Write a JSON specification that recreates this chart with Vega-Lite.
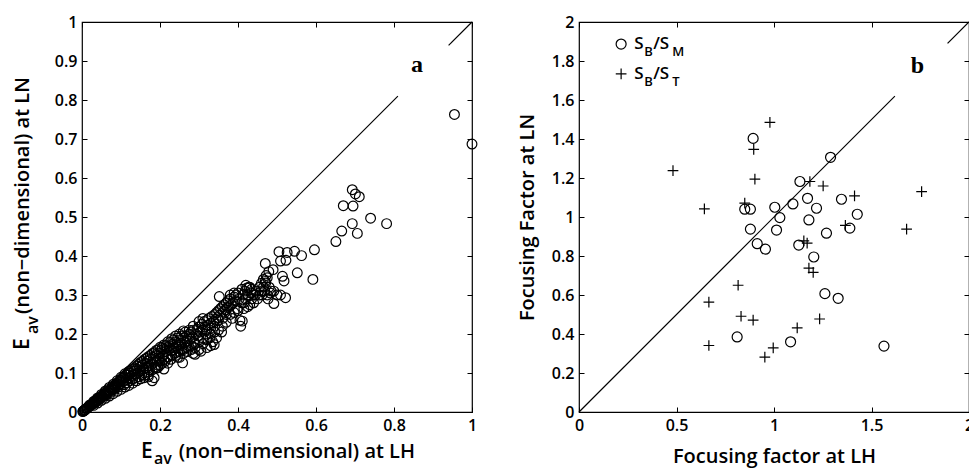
{
  "$schema": "https://vega.github.io/schema/vega-lite/v6.json",
  "background": "white",
  "padding": {"left": 11, "top": 13, "right": 0, "bottom": 0},
  "spacing": 36,
  "config": {
    "view": {"stroke": "black", "strokeWidth": 1.2},
    "font": "Open Sans",
    "axis": {
      "domain": false, "grid": false, "ticks": true, "tickColor": "black", "tickSize": -5, "tickWidth": 1,
      "labelFont": "Open Sans", "labelFontSize": 16, "labelFontWeight": 600, "labelColor": "black",
      "labelPadding": 10, "labelFlush": false, "labelOverlap": false,
      "titleFont": "Open Sans", "titleFontSize": 20, "titleFontWeight": 600, "titleColor": "black", "titlePadding": 12
    }
  },
  "hconcat": [
    {
      "width": 390, "height": 390,
      "resolve": {"axis": {"x": "independent", "y": "independent"}},
      "layer": [
        {
          "data": {"values": [{"x1": 0, "y1": 0, "x2": 0.81, "y2": 0.81}, {"x1": 0.94, "y1": 0.94, "x2": 1, "y2": 1}]},
          "mark": {"type": "rule", "color": "black", "strokeWidth": 1.2},
          "encoding": {
            "x": {"field": "x1", "type": "quantitative", "scale": {"domain": [0, 1], "nice": false}, "axis": {"orient": "bottom", "values": [0, 0.2, 0.4, 0.6, 0.8, 1], "format": "~g", "title": null}},
            "y": {"field": "y1", "type": "quantitative", "scale": {"domain": [0, 1], "nice": false}, "axis": {"orient": "left", "values": [0, 0.1, 0.2, 0.3, 0.4, 0.5, 0.6, 0.7, 0.8, 0.9, 1], "format": "~g", "title": null}},
            "x2": {"field": "x2"},
            "y2": {"field": "y2"}
          }
        },
        {
          "data": {"values": [
            {"x":0.002,"y":0.001},{"x":0.004,"y":0.003},{"x":0.006,"y":0.005},{"x":0.008,"y":0.006},{"x":0.01,"y":0.008},{"x":0.012,"y":0.009},{"x":0.015,"y":0.012},{"x":0.017,"y":0.013},{"x":0.02,"y":0.016},{"x":0.022,"y":0.017},{"x":0.025,"y":0.02},{"x":0.027,"y":0.02},{"x":0.03,"y":0.024},{"x":0.032,"y":0.025},{"x":0.035,"y":0.027},{"x":0.037,"y":0.03},{"x":0.04,"y":0.031},{"x":0.042,"y":0.034},{"x":0.045,"y":0.035},{"x":0.048,"y":0.037},{"x":0.003,"y":0.002},{"x":0.007,"y":0.004},{"x":0.013,"y":0.01},{"x":0.018,"y":0.015},{"x":0.024,"y":0.018},{"x":0.029,"y":0.022},{"x":0.034,"y":0.029},{"x":0.039,"y":0.028},{"x":0.044,"y":0.036},{"x":0.049,"y":0.04},
            {"x":0.05,"y":0.04},{"x":0.052,"y":0.038},{"x":0.055,"y":0.045},{"x":0.057,"y":0.043},{"x":0.06,"y":0.048},{"x":0.062,"y":0.046},{"x":0.065,"y":0.052},{"x":0.067,"y":0.05},{"x":0.07,"y":0.056},{"x":0.072,"y":0.054},{"x":0.075,"y":0.06},{"x":0.077,"y":0.057},{"x":0.08,"y":0.064},{"x":0.082,"y":0.06},{"x":0.085,"y":0.068},{"x":0.087,"y":0.065},{"x":0.09,"y":0.072},{"x":0.092,"y":0.068},{"x":0.095,"y":0.076},{"x":0.097,"y":0.07},{"x":0.1,"y":0.08},{"x":0.058,"y":0.05},{"x":0.068,"y":0.058},{"x":0.078,"y":0.066},{"x":0.088,"y":0.074},{"x":0.098,"y":0.082},{"x":0.063,"y":0.044},{"x":0.073,"y":0.05},{"x":0.083,"y":0.058},{"x":0.093,"y":0.064},
            {"x":0.02,"y":0.018},{"x":0.03,"y":0.027},{"x":0.04,"y":0.036},{"x":0.05,"y":0.045},{"x":0.06,"y":0.054},{"x":0.07,"y":0.063},{"x":0.08,"y":0.071},{"x":0.09,"y":0.08},{"x":0.1,"y":0.089},{"x":0.11,"y":0.098},{"x":0.12,"y":0.104},
            {"x":0.03,"y":0.017},{"x":0.04,"y":0.023},{"x":0.05,"y":0.03},{"x":0.06,"y":0.035},{"x":0.07,"y":0.041},{"x":0.08,"y":0.047},{"x":0.09,"y":0.053},{"x":0.1,"y":0.058},{"x":0.11,"y":0.064},{"x":0.12,"y":0.068},{"x":0.13,"y":0.074},{"x":0.14,"y":0.08},{"x":0.15,"y":0.085},
            {"x":0.102,"y":0.085},{"x":0.105,"y":0.078},{"x":0.108,"y":0.07},{"x":0.11,"y":0.09},{"x":0.113,"y":0.082},{"x":0.115,"y":0.075},{"x":0.118,"y":0.095},{"x":0.12,"y":0.087},{"x":0.123,"y":0.08},{"x":0.125,"y":0.1},{"x":0.128,"y":0.092},{"x":0.13,"y":0.084},{"x":0.133,"y":0.105},{"x":0.135,"y":0.097},{"x":0.138,"y":0.088},{"x":0.14,"y":0.11},{"x":0.143,"y":0.1},{"x":0.145,"y":0.09},{"x":0.148,"y":0.115},{"x":0.15,"y":0.105},{"x":0.153,"y":0.095},{"x":0.155,"y":0.12},{"x":0.158,"y":0.11},{"x":0.16,"y":0.1},{"x":0.163,"y":0.125},{"x":0.165,"y":0.113},{"x":0.168,"y":0.13},{"x":0.17,"y":0.118},{"x":0.173,"y":0.108},{"x":0.175,"y":0.135},{"x":0.178,"y":0.122},{"x":0.18,"y":0.08},{"x":0.183,"y":0.14},{"x":0.185,"y":0.128},{"x":0.188,"y":0.115},{"x":0.19,"y":0.145},{"x":0.193,"y":0.132},{"x":0.195,"y":0.12},{"x":0.198,"y":0.15},{"x":0.2,"y":0.138},{"x":0.185,"y":0.088},{"x":0.194,"y":0.114},{"x":0.17,"y":0.095},
            {"x":0.105,"y":0.088},{"x":0.115,"y":0.095},{"x":0.125,"y":0.106},{"x":0.135,"y":0.113},{"x":0.145,"y":0.122},{"x":0.155,"y":0.13},{"x":0.165,"y":0.138},{"x":0.175,"y":0.145},{"x":0.185,"y":0.152},{"x":0.195,"y":0.16},{"x":0.16,"y":0.088},{"x":0.17,"y":0.09},{"x":0.2,"y":0.12},{"x":0.21,"y":0.11},{"x":0.22,"y":0.125},
            {"x":0.12,"y":0.1},{"x":0.13,"y":0.11},{"x":0.14,"y":0.118},{"x":0.15,"y":0.127},{"x":0.16,"y":0.135},{"x":0.17,"y":0.142},{"x":0.18,"y":0.15},{"x":0.19,"y":0.158},{"x":0.2,"y":0.166},{"x":0.21,"y":0.172},{"x":0.22,"y":0.18},{"x":0.23,"y":0.188},{"x":0.24,"y":0.195},{"x":0.25,"y":0.2},{"x":0.26,"y":0.208},{"x":0.16,"y":0.094},{"x":0.17,"y":0.102},{"x":0.18,"y":0.108},{"x":0.19,"y":0.112},{"x":0.2,"y":0.13},{"x":0.21,"y":0.135},{"x":0.22,"y":0.14},{"x":0.23,"y":0.145},{"x":0.24,"y":0.152},{"x":0.25,"y":0.14},{"x":0.26,"y":0.15},{"x":0.27,"y":0.155},{"x":0.28,"y":0.16},{"x":0.29,"y":0.175},{"x":0.31,"y":0.175},{"x":0.32,"y":0.185},{"x":0.33,"y":0.2},{"x":0.34,"y":0.205},{"x":0.35,"y":0.21},{"x":0.36,"y":0.22},{"x":0.37,"y":0.23},{"x":0.38,"y":0.25},{"x":0.39,"y":0.255},{"x":0.4,"y":0.26},
            {"x":0.203,"y":0.158},{"x":0.205,"y":0.125},{"x":0.208,"y":0.145},{"x":0.21,"y":0.162},{"x":0.213,"y":0.13},{"x":0.215,"y":0.155},{"x":0.218,"y":0.165},{"x":0.22,"y":0.142},{"x":0.223,"y":0.16},{"x":0.225,"y":0.17},{"x":0.228,"y":0.135},{"x":0.23,"y":0.158},{"x":0.233,"y":0.175},{"x":0.235,"y":0.165},{"x":0.238,"y":0.15},{"x":0.24,"y":0.18},{"x":0.243,"y":0.168},{"x":0.245,"y":0.14},{"x":0.248,"y":0.172},{"x":0.25,"y":0.185},{"x":0.253,"y":0.175},{"x":0.255,"y":0.16},{"x":0.258,"y":0.126},{"x":0.26,"y":0.19},{"x":0.263,"y":0.178},{"x":0.265,"y":0.165},{"x":0.268,"y":0.195},{"x":0.27,"y":0.182},{"x":0.273,"y":0.17},{"x":0.275,"y":0.2},{"x":0.278,"y":0.188},{"x":0.28,"y":0.205},{"x":0.283,"y":0.192},{"x":0.285,"y":0.21},{"x":0.288,"y":0.178},{"x":0.29,"y":0.148},{"x":0.292,"y":0.2},{"x":0.295,"y":0.212},{"x":0.298,"y":0.195},{"x":0.3,"y":0.218},{"x":0.29,"y":0.165},{"x":0.285,"y":0.22},
            {"x":0.205,"y":0.165},{"x":0.215,"y":0.17},{"x":0.225,"y":0.178},{"x":0.235,"y":0.185},{"x":0.245,"y":0.19},{"x":0.255,"y":0.195},{"x":0.265,"y":0.205},{"x":0.275,"y":0.21},{"x":0.24,"y":0.145},{"x":0.25,"y":0.155},{"x":0.26,"y":0.16},{"x":0.27,"y":0.165},{"x":0.28,"y":0.17},{"x":0.3,"y":0.185},{"x":0.31,"y":0.19},{"x":0.32,"y":0.21},{"x":0.33,"y":0.215},{"x":0.34,"y":0.22},{"x":0.35,"y":0.235},{"x":0.36,"y":0.24},{"x":0.37,"y":0.25},{"x":0.3,"y":0.232},{"x":0.31,"y":0.24},{"x":0.285,"y":0.15},{"x":0.3,"y":0.16},{"x":0.32,"y":0.165},{"x":0.33,"y":0.17},{"x":0.345,"y":0.19},
            {"x":0.303,"y":0.205},{"x":0.305,"y":0.156},{"x":0.308,"y":0.225},{"x":0.31,"y":0.21},{"x":0.313,"y":0.232},{"x":0.315,"y":0.218},{"x":0.318,"y":0.2},{"x":0.32,"y":0.235},{"x":0.323,"y":0.222},{"x":0.325,"y":0.24},{"x":0.328,"y":0.19},{"x":0.33,"y":0.228},{"x":0.333,"y":0.245},{"x":0.335,"y":0.18},{"x":0.338,"y":0.232},{"x":0.339,"y":0.173},{"x":0.34,"y":0.25},{"x":0.343,"y":0.238},{"x":0.345,"y":0.255},{"x":0.348,"y":0.242},{"x":0.35,"y":0.26},{"x":0.352,"y":0.296},{"x":0.353,"y":0.248},{"x":0.355,"y":0.265},{"x":0.358,"y":0.205},{"x":0.36,"y":0.27},{"x":0.363,"y":0.258},{"x":0.365,"y":0.275},{"x":0.368,"y":0.262},{"x":0.37,"y":0.28},{"x":0.373,"y":0.268},{"x":0.375,"y":0.285},{"x":0.378,"y":0.27},{"x":0.38,"y":0.29},{"x":0.383,"y":0.275},{"x":0.385,"y":0.24},{"x":0.388,"y":0.28},{"x":0.39,"y":0.295},{"x":0.393,"y":0.285},{"x":0.395,"y":0.3},{"x":0.398,"y":0.265},{"x":0.4,"y":0.305},{"x":0.403,"y":0.29},{"x":0.405,"y":0.235},{"x":0.407,"y":0.22},{"x":0.411,"y":0.233},{"x":0.41,"y":0.28},{"x":0.413,"y":0.3},{"x":0.415,"y":0.265},{"x":0.418,"y":0.31},{"x":0.42,"y":0.29},{"x":0.423,"y":0.318},{"x":0.425,"y":0.3},{"x":0.428,"y":0.32},{"x":0.43,"y":0.275},{"x":0.433,"y":0.305},{"x":0.435,"y":0.315},{"x":0.44,"y":0.3},{"x":0.445,"y":0.31},{"x":0.45,"y":0.29},
            {"x":0.38,"y":0.3},{"x":0.39,"y":0.305},{"x":0.41,"y":0.315},{"x":0.42,"y":0.325},{"x":0.43,"y":0.32},{"x":0.415,"y":0.28},{"x":0.425,"y":0.27},{"x":0.435,"y":0.29},{"x":0.44,"y":0.28},{"x":0.445,"y":0.3},{"x":0.455,"y":0.3},{"x":0.46,"y":0.31},{"x":0.465,"y":0.32},{"x":0.47,"y":0.335},{"x":0.475,"y":0.3},{"x":0.483,"y":0.305},
            {"x":0.455,"y":0.32},{"x":0.46,"y":0.33},{"x":0.462,"y":0.3},{"x":0.465,"y":0.34},{"x":0.468,"y":0.31},{"x":0.47,"y":0.381},{"x":0.471,"y":0.331},{"x":0.472,"y":0.35},{"x":0.475,"y":0.344},{"x":0.477,"y":0.29},{"x":0.479,"y":0.36},{"x":0.48,"y":0.32},{"x":0.485,"y":0.31},{"x":0.49,"y":0.365},{"x":0.492,"y":0.31},{"x":0.492,"y":0.278},{"x":0.5,"y":0.3},{"x":0.505,"y":0.411},{"x":0.509,"y":0.387},{"x":0.509,"y":0.3},{"x":0.514,"y":0.348},{"x":0.518,"y":0.336},{"x":0.522,"y":0.293},{"x":0.523,"y":0.389},{"x":0.526,"y":0.409},{"x":0.545,"y":0.412},{"x":0.552,"y":0.357},{"x":0.563,"y":0.401},
            {"x":0.592,"y":0.34},{"x":0.596,"y":0.416},{"x":0.651,"y":0.437},{"x":0.666,"y":0.464},{"x":0.67,"y":0.529},{"x":0.693,"y":0.57},{"x":0.701,"y":0.559},{"x":0.711,"y":0.552},{"x":0.695,"y":0.528},{"x":0.74,"y":0.497},{"x":0.781,"y":0.483},{"x":0.693,"y":0.483},{"x":0.706,"y":0.458},{"x":0.955,"y":0.763},{"x":1.0,"y":0.687}
          ]},
          "mark": {"type": "point", "shape": "circle", "filled": false, "color": "black", "opacity": 1, "size": 95, "strokeWidth": 1.2},
          "encoding": {
            "x": {"field": "x", "type": "quantitative", "scale": {"domain": [0, 1], "nice": false}, "axis": {"orient": "top", "values": [0, 0.2, 0.4, 0.6, 0.8, 1], "labels": false, "title": null}},
            "y": {"field": "y", "type": "quantitative", "scale": {"domain": [0, 1], "nice": false}, "axis": {"orient": "right", "values": [0, 0.1, 0.2, 0.3, 0.4, 0.5, 0.6, 0.7, 0.8, 0.9, 1], "labels": false, "title": null}}
          }
        },
        {
          "data": {"values": [{}]},
          "mark": {"type": "text", "text": "a", "font": "Liberation Serif", "fontWeight": "bold", "fontSize": 24, "align": "center", "baseline": "alphabetic", "color": "black"},
          "encoding": {"x": {"datum": 0.859, "type": "quantitative", "axis": null}, "y": {"datum": 0.872, "type": "quantitative", "axis": null}}
        },
        {
          "data": {"values": [{}]},
          "mark": {"type": "text", "text": "E", "fontSize": 21, "fontWeight": 600, "align": "left", "baseline": "alphabetic", "color": "black"},
          "encoding": {"x": {"datum": 0.151, "type": "quantitative", "axis": null}, "y": {"datum": -0.1178, "type": "quantitative", "axis": null}}
        },
        {
          "data": {"values": [{}]},
          "mark": {"type": "text", "text": "av", "fontSize": 16, "fontWeight": 600, "align": "left", "baseline": "alphabetic", "color": "black", "dy": 6},
          "encoding": {"x": {"datum": 0.1843, "type": "quantitative", "axis": null}, "y": {"datum": -0.1178, "type": "quantitative", "axis": null}}
        },
        {
          "data": {"values": [{}]},
          "mark": {"type": "text", "text": "(non−dimensional) at LH", "fontSize": 20, "fontWeight": 600, "align": "left", "baseline": "alphabetic", "color": "black"},
          "encoding": {"x": {"datum": 0.248, "type": "quantitative", "axis": null}, "y": {"datum": -0.1178, "type": "quantitative", "axis": null}}
        },
        {
          "data": {"values": [{}]},
          "mark": {"type": "text", "text": "E", "fontSize": 21, "fontWeight": 600, "align": "left", "baseline": "alphabetic", "angle": 270, "color": "black"},
          "encoding": {"x": {"datum": -0.1357, "type": "quantitative", "axis": null}, "y": {"datum": 0.1589, "type": "quantitative", "axis": null}}
        },
        {
          "data": {"values": [{}]},
          "mark": {"type": "text", "text": "av", "fontSize": 16, "fontWeight": 600, "align": "left", "baseline": "alphabetic", "angle": 270, "color": "black", "dy": 9},
          "encoding": {"x": {"datum": -0.1357, "type": "quantitative", "axis": null}, "y": {"datum": 0.1998, "type": "quantitative", "axis": null}}
        },
        {
          "data": {"values": [{}]},
          "mark": {"type": "text", "text": "(non−dimensional) at LN", "fontSize": 20, "fontWeight": 600, "align": "left", "baseline": "alphabetic", "angle": 270, "color": "black"},
          "encoding": {"x": {"datum": -0.1357, "type": "quantitative", "axis": null}, "y": {"datum": 0.251, "type": "quantitative", "axis": null}}
        }
      ]
    },
    {
      "width": 390, "height": 390,
      "resolve": {"axis": {"x": "independent", "y": "independent"}},
      "layer": [
        {
          "data": {"values": [{"x1": 0, "y1": 0, "x2": 1.62, "y2": 1.62}, {"x1": 1.89, "y1": 1.89, "x2": 2, "y2": 2}]},
          "mark": {"type": "rule", "color": "black", "strokeWidth": 1.2},
          "encoding": {
            "x": {"field": "x1", "type": "quantitative", "scale": {"domain": [0, 2], "nice": false}, "axis": {"orient": "bottom", "values": [0, 0.5, 1, 1.5, 2], "format": "~g", "title": "Focusing factor at LH", "titlePadding": 13}},
            "y": {"field": "y1", "type": "quantitative", "scale": {"domain": [0, 2], "nice": false}, "axis": {"orient": "left", "values": [0, 0.2, 0.4, 0.6, 0.8, 1, 1.2, 1.4, 1.6, 1.8, 2], "format": "~g", "title": "Focusing Factor at LN", "titlePadding": 14}},
            "x2": {"field": "x2"},
            "y2": {"field": "y2"}
          }
        },
        {
          "data": {"values": [
            {"type":"SB/SM","x":0.893,"y":1.403},{"type":"SB/SM","x":1.29,"y":1.306},{"type":"SB/SM","x":1.133,"y":1.182},{"type":"SB/SM","x":1.346,"y":1.091},{"type":"SB/SM","x":1.172,"y":1.096},{"type":"SB/SM","x":1.097,"y":1.067},{"type":"SB/SM","x":1.004,"y":1.05},{"type":"SB/SM","x":0.85,"y":1.04},{"type":"SB/SM","x":0.879,"y":1.04},{"type":"SB/SM","x":1.218,"y":1.045},{"type":"SB/SM","x":1.427,"y":1.014},{"type":"SB/SM","x":1.03,"y":0.997},{"type":"SB/SM","x":1.179,"y":0.985},{"type":"SB/SM","x":1.389,"y":0.943},{"type":"SB/SM","x":0.879,"y":0.938},{"type":"SB/SM","x":1.013,"y":0.933},{"type":"SB/SM","x":1.269,"y":0.917},{"type":"SB/SM","x":0.914,"y":0.863},{"type":"SB/SM","x":0.956,"y":0.835},{"type":"SB/SM","x":1.127,"y":0.856},{"type":"SB/SM","x":1.204,"y":0.795},{"type":"SB/SM","x":1.261,"y":0.607},{"type":"SB/SM","x":1.329,"y":0.583},{"type":"SB/SM","x":0.811,"y":0.385},{"type":"SB/SM","x":1.085,"y":0.36},{"type":"SB/SM","x":1.564,"y":0.338},
            {"type":"SB/ST","x":0.979,"y":1.485},{"type":"SB/ST","x":0.896,"y":1.347},{"type":"SB/ST","x":0.482,"y":1.238},{"type":"SB/ST","x":0.902,"y":1.194},{"type":"SB/ST","x":1.184,"y":1.182},{"type":"SB/ST","x":1.252,"y":1.159},{"type":"SB/ST","x":1.413,"y":1.108},{"type":"SB/ST","x":1.757,"y":1.13},{"type":"SB/ST","x":0.643,"y":1.042},{"type":"SB/ST","x":0.85,"y":1.071},{"type":"SB/ST","x":1.366,"y":0.957},{"type":"SB/ST","x":1.153,"y":0.878},{"type":"SB/ST","x":1.17,"y":0.866},{"type":"SB/ST","x":1.68,"y":0.938},{"type":"SB/ST","x":1.179,"y":0.738},{"type":"SB/ST","x":1.201,"y":0.716},{"type":"SB/ST","x":0.816,"y":0.65},{"type":"SB/ST","x":0.666,"y":0.563},{"type":"SB/ST","x":0.831,"y":0.491},{"type":"SB/ST","x":0.893,"y":0.471},{"type":"SB/ST","x":1.234,"y":0.477},{"type":"SB/ST","x":1.119,"y":0.431},{"type":"SB/ST","x":0.666,"y":0.341},{"type":"SB/ST","x":0.996,"y":0.329},{"type":"SB/ST","x":0.953,"y":0.281}
          ]},
          "mark": {"type": "point", "filled": false, "color": "black", "opacity": 1, "strokeWidth": 1.2},
          "encoding": {
            "x": {"field": "x", "type": "quantitative", "scale": {"domain": [0, 2], "nice": false}, "axis": {"orient": "top", "values": [0, 0.5, 1, 1.5, 2], "labels": false, "title": null}},
            "y": {"field": "y", "type": "quantitative", "scale": {"domain": [0, 2], "nice": false}, "axis": {"orient": "right", "values": [0, 0.2, 0.4, 0.6, 0.8, 1, 1.2, 1.4, 1.6, 1.8, 2], "labels": false, "title": null}},
            "shape": {"field": "type", "type": "nominal", "scale": {"domain": ["SB/SM", "SB/ST"], "range": ["circle", "M-1,0H1M0,-1V1"]}, "legend": null},
            "size": {"field": "type", "type": "nominal", "scale": {"domain": ["SB/SM", "SB/ST"], "range": [100, 115]}, "legend": null}
          }
        },
        {
          "data": {"values": [{}]},
          "mark": {"type": "point", "shape": "circle", "filled": false, "color": "black", "opacity": 1, "size": 100, "strokeWidth": 1.2},
          "encoding": {"x": {"datum": 0.216, "type": "quantitative", "axis": null}, "y": {"datum": 1.887, "type": "quantitative", "axis": null}}
        },
        {
          "data": {"values": [{}]},
          "mark": {"type": "point", "shape": "M-1,0H1M0,-1V1", "filled": false, "color": "black", "opacity": 1, "size": 115, "strokeWidth": 1.2},
          "encoding": {"x": {"datum": 0.216, "type": "quantitative", "axis": null}, "y": {"datum": 1.734, "type": "quantitative", "axis": null}}
        },
        {
          "data": {"values": [{}]},
          "mark": {"type": "text", "text": "S", "fontSize": 17, "fontWeight": 600, "align": "left", "baseline": "middle", "color": "black"},
          "encoding": {"x": {"datum": 0.283, "type": "quantitative", "axis": null}, "y": {"datum": 1.887, "type": "quantitative", "axis": null}}
        },
        {
          "data": {"values": [{}]},
          "mark": {"type": "text", "text": "B", "fontSize": 13, "fontWeight": 600, "align": "left", "baseline": "middle", "color": "black", "dx": 10, "dy": 8},
          "encoding": {"x": {"datum": 0.283, "type": "quantitative", "axis": null}, "y": {"datum": 1.887, "type": "quantitative", "axis": null}}
        },
        {
          "data": {"values": [{}]},
          "mark": {"type": "text", "text": "/S", "fontSize": 17, "fontWeight": 600, "align": "left", "baseline": "middle", "color": "black", "dx": 19},
          "encoding": {"x": {"datum": 0.283, "type": "quantitative", "axis": null}, "y": {"datum": 1.887, "type": "quantitative", "axis": null}}
        },
        {
          "data": {"values": [{}]},
          "mark": {"type": "text", "text": "M", "fontSize": 13, "fontWeight": 600, "align": "left", "baseline": "middle", "color": "black", "dx": 38, "dy": 8},
          "encoding": {"x": {"datum": 0.283, "type": "quantitative", "axis": null}, "y": {"datum": 1.887, "type": "quantitative", "axis": null}}
        },
        {
          "data": {"values": [{}]},
          "mark": {"type": "text", "text": "S", "fontSize": 17, "fontWeight": 600, "align": "left", "baseline": "middle", "color": "black"},
          "encoding": {"x": {"datum": 0.283, "type": "quantitative", "axis": null}, "y": {"datum": 1.734, "type": "quantitative", "axis": null}}
        },
        {
          "data": {"values": [{}]},
          "mark": {"type": "text", "text": "B", "fontSize": 13, "fontWeight": 600, "align": "left", "baseline": "middle", "color": "black", "dx": 10, "dy": 8},
          "encoding": {"x": {"datum": 0.283, "type": "quantitative", "axis": null}, "y": {"datum": 1.734, "type": "quantitative", "axis": null}}
        },
        {
          "data": {"values": [{}]},
          "mark": {"type": "text", "text": "/S", "fontSize": 17, "fontWeight": 600, "align": "left", "baseline": "middle", "color": "black", "dx": 19},
          "encoding": {"x": {"datum": 0.283, "type": "quantitative", "axis": null}, "y": {"datum": 1.734, "type": "quantitative", "axis": null}}
        },
        {
          "data": {"values": [{}]},
          "mark": {"type": "text", "text": "T", "fontSize": 13, "fontWeight": 600, "align": "left", "baseline": "middle", "color": "black", "dx": 38, "dy": 8},
          "encoding": {"x": {"datum": 0.283, "type": "quantitative", "axis": null}, "y": {"datum": 1.734, "type": "quantitative", "axis": null}}
        },
        {
          "data": {"values": [{}]},
          "mark": {"type": "text", "text": "b", "font": "Liberation Serif", "fontWeight": "bold", "fontSize": 24, "align": "center", "baseline": "alphabetic", "color": "black"},
          "encoding": {"x": {"datum": 1.736, "type": "quantitative", "axis": null}, "y": {"datum": 1.739, "type": "quantitative", "axis": null}}
        }
      ]
    }
  ]
}
